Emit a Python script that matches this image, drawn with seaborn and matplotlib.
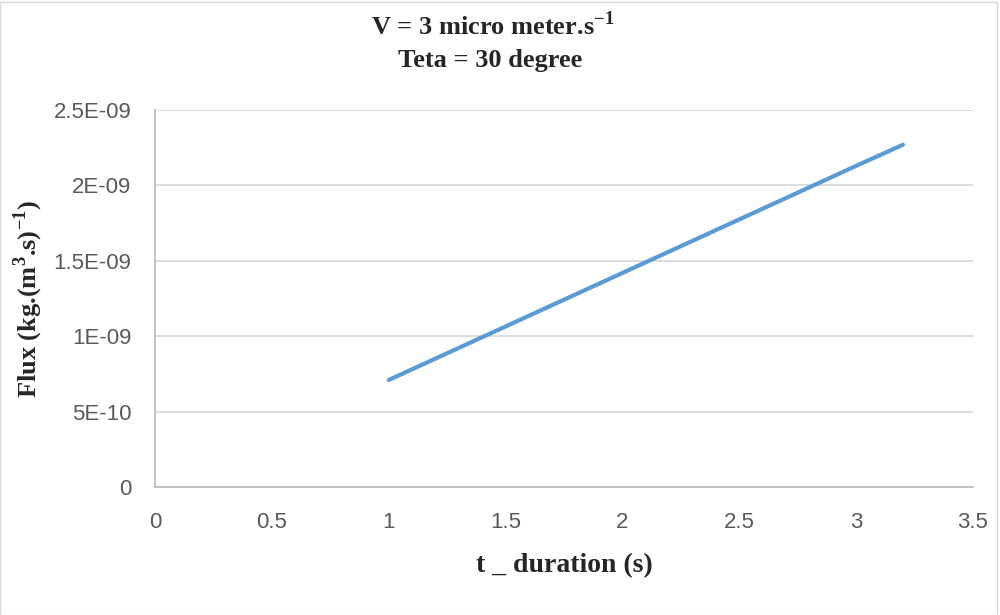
import numpy as np
import pandas as pd
import matplotlib
matplotlib.use("Agg")
import matplotlib.pyplot as plt
import seaborn as sns

# values
t_duration = [1.0, 1.5, 2.0, 2.5, 3.0, 3.2]
flux = [7.1e-10, 1.065e-9, 1.42e-9, 1.775e-9, 2.13e-9, 2.27e-9]
x_ticks = [0, 0.5, 1, 1.5, 2, 2.5, 3, 3.5]
x_tick_labels = ["0", "0.5", "1", "1.5", "2", "2.5", "3", "3.5"]
y_ticks = [0, 5e-10, 1e-9, 1.5e-9, 2e-9, 2.5e-9]
y_tick_labels = ["0", "5E-10", "1E-09", "1.5E-09", "2E-09", "2.5E-09"]

df = pd.DataFrame({"t": t_duration, "flux": flux})

sns.set_style("white")
plt.rcParams["font.family"] = ["Liberation Sans", "DejaVu Sans"]
plt.rcParams["mathtext.fontset"] = "custom"
plt.rcParams["mathtext.bf"] = "Liberation Serif:bold"
plt.rcParams["mathtext.rm"] = "Liberation Serif"

fig = plt.figure(figsize=(10, 6.15), dpi=100)
ax = fig.add_axes([0.155, 0.208, 0.818, 0.613])

sns.lineplot(data=df, x="t", y="flux", ax=ax, color="#5b9bd5", linewidth=3,
             solid_capstyle="round")

ax.set_xlim(0, 3.5)
ax.set_ylim(0, 2.5e-9)
ax.set_xticks(x_ticks)
ax.set_xticklabels(x_tick_labels)
ax.set_yticks(y_ticks)
ax.set_yticklabels(y_tick_labels)
ax.tick_params(axis="both", length=0, labelsize=16, labelcolor="#595959")
ax.tick_params(axis="x", pad=18)
ax.tick_params(axis="y", pad=17)
ax.grid(axis="y", color="#d9d9d9", linewidth=1.3)
ax.grid(axis="x", visible=False)

for side in ["top", "right"]:
    ax.spines[side].set_visible(False)
ax.spines["left"].set_color("#bfbfbf")
ax.spines["bottom"].set_color("#bfbfbf")
ax.spines["left"].set_linewidth(1.3)
ax.spines["bottom"].set_linewidth(1.3)

serif = ["Liberation Serif", "DejaVu Serif"]
ax.set_xlabel("t _ duration (s)", fontsize=20, fontweight="bold", family=serif)
ax.xaxis.set_label_coords(0.5, -0.175)
ax.set_ylabel(r"Flux (kg.(m$^{\mathbf{3}}$.s)$^{\mathbf{-1}}$)", fontsize=19,
              fontweight="bold", family=serif)
ax.yaxis.set_label_coords(-0.134, 0.5)

fig.text(0.493, 0.943, r"V = 3 micro meter.s$^{\mathbf{-1}}$", ha="center", va="baseline",
         fontsize=19, fontweight="bold", family=serif)
fig.text(0.49, 0.891, "Teta = 30 degree", ha="center", va="baseline",
         fontsize=19, fontweight="bold", family=serif)

# thin frame like the chart area border
fig.patches.append(plt.Rectangle((0, 0), 0.997, 0.997, transform=fig.transFigure,
                                 fill=False, edgecolor="#d9d9d9", linewidth=1))

fig.savefig("out.png", dpi=100)
